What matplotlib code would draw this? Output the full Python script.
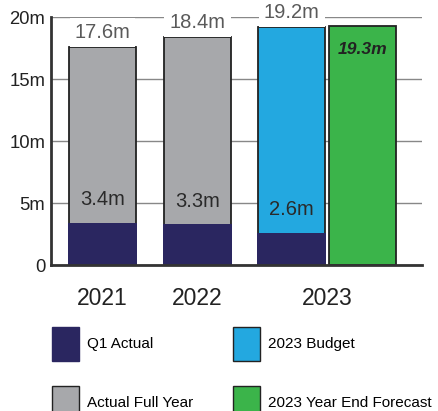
import matplotlib.pyplot as plt
from matplotlib.patches import Patch

plt.rcParams["font.family"] = ["Liberation Sans", "DejaVu Sans"]

years = ["2021", "2022", "2023"]
full_year = [17.6, 18.4]
q1_actual = [3.4, 3.3, 2.6]
budget_2023 = 19.2
forecast_2023 = 19.3

navy = "#2a2660"
gray = "#a7a8ab"
blue = "#23a8e0"
green = "#3bb44a"
edge = "#222222"

fig = plt.figure(figsize=(4.38, 4.11), dpi=100)
ax = fig.add_axes([0.1164, 0.3552, 0.847, 0.6034])

w = 0.705
x_full = [0, 1]
x_budget = 1.99
x_fc = 2.74
x_q1 = [0, 1, x_budget]

ax.bar(x_full, full_year, width=w, color=gray, edgecolor=edge, linewidth=1.3, zorder=2)
ax.bar([x_budget], [budget_2023], width=w, color=blue, edgecolor=edge, linewidth=1.3, zorder=2)
ax.bar([x_fc], [forecast_2023], width=w, color=green, edgecolor=edge, linewidth=1.3, zorder=2)
ax.bar(x_q1, q1_actual, width=w + 0.02, color=navy, linewidth=0, zorder=3)

# top labels with white background to break the gridline
tops = full_year + [budget_2023]
for xi, v in zip(x_full + [x_budget], tops):
    ax.text(xi, v + 1.15, f"{v}m", ha="center", va="center", fontsize=14.5,
            color="#5a5a5a", zorder=4, clip_on=False,
            bbox=dict(boxstyle="square,pad=0.25", fc="white", ec="none"))

for xi, v in zip(x_q1, q1_actual):
    ax.text(xi, v + 1.85, f"{v}m", ha="center", va="center", fontsize=14.5,
            color="#2a2a2a", zorder=4)

ax.text(x_fc, forecast_2023 - 1.9, f"{forecast_2023}m", ha="center", va="center",
        fontsize=12.6, fontweight="bold", fontstyle="italic", color="#222222", zorder=4)

ax.set_xlim(-0.542, 3.363)
ax.set_ylim(0, 20)
ax.set_yticks([0, 5, 10, 15, 20])
ax.set_yticklabels(["0", "5m", "10m", "15m", "20m"], fontsize=13.3, color="#222222")
ax.tick_params(axis="y", length=0, pad=4)
ax.set_xticks([0, 1, (x_budget + x_fc) / 2])
ax.set_xticklabels(years, fontsize=16.5, color="#222222")
ax.tick_params(axis="x", length=0, pad=16)

ax.yaxis.grid(True, color="#888888", linewidth=1.0, zorder=0)
ax.set_axisbelow(True)
for s in ["top", "right"]:
    ax.spines[s].set_visible(False)
for s in ["left", "bottom"]:
    ax.spines[s].set_color("#333333")
    ax.spines[s].set_linewidth(2)
    ax.spines[s].set_zorder(5)

handles = [
    Patch(facecolor=navy, edgecolor=navy, label="Q1 Actual"),
    Patch(facecolor=gray, edgecolor=edge, label="Actual Full Year"),
    Patch(facecolor=blue, edgecolor=edge, label="2023 Budget"),
    Patch(facecolor=green, edgecolor=edge, label="2023 Year End Forecast"),
]
fig.legend(handles=handles, ncol=2, loc="upper left",
           bbox_to_anchor=(52 / 438, 1 - 327 / 411), borderpad=0, borderaxespad=0,
           frameon=False, fontsize=11, handlelength=1.77, handleheight=3.04,
           handletextpad=0.52, columnspacing=2.6, labelspacing=1.63)

fig.savefig("out.png", dpi=100)
